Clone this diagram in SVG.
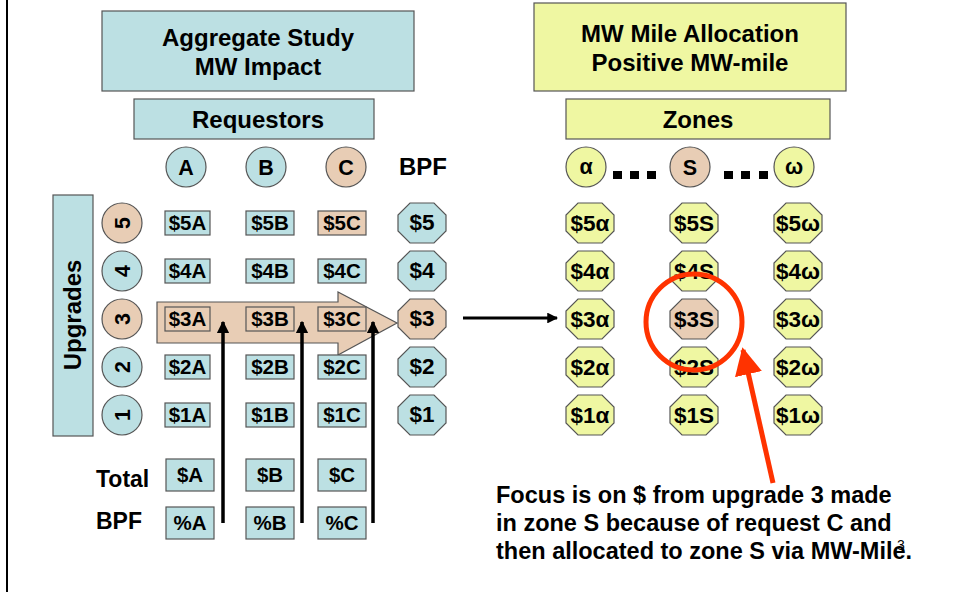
<svg xmlns="http://www.w3.org/2000/svg" width="953" height="592" viewBox="0 0 953 592">
<style>
text{font-family:"Liberation Sans",Arial,sans-serif;font-weight:bold;fill:#000}
.teal{fill:#bce0e3;stroke:#555;stroke-width:1.2}
.tan{fill:#e8cdb5;stroke:#555;stroke-width:1.2}
.yel{fill:#eff7a2;stroke:#555;stroke-width:1.2}
.t23{font-size:24px;text-anchor:middle}
.t21{font-size:21.5px;text-anchor:middle}
.t19{font-size:20.5px;text-anchor:middle}
.oc{font-size:22.5px;text-anchor:middle}
.note{font-size:23.5px}
</style>
<defs>
<path id="oct" d="M-12,-20 H12 L24,-8 V8 L12,20 H-12 L-24,8 V-8 Z"/>
<marker id="ah" viewBox="0 0 10 10" refX="9" refY="5" markerWidth="3.6" markerHeight="3.6" orient="auto" markerUnits="strokeWidth"><path d="M0,0 L10,5 L0,10 Z" fill="#000"/></marker>
<marker id="rah" viewBox="0 0 10 10" refX="9" refY="5" markerWidth="5.5" markerHeight="5.5" orient="auto" markerUnits="strokeWidth"><path d="M0,0 L10,5 L0,10 Z" fill="#ff3300"/></marker>
</defs>
<rect width="953" height="592" fill="#fff"/>
<line x1="7" y1="0" x2="7" y2="592" stroke="#000" stroke-width="2"/>

<g id="title-left"><rect class="teal" x="102" y="11" width="312" height="80"/><text class="t23" x="258" y="46">Aggregate Study</text><text class="t23" x="258" y="75">MW Impact</text></g>
<g id="requestors"><rect class="teal" x="134" y="99" width="240" height="40"/><text class="t23" x="258" y="128">Requestors</text></g>
<g id="title-right"><rect class="yel" x="534" y="3" width="312" height="88"/><text class="t23" x="690" y="42">MW Mile Allocation</text><text class="t23" x="690" y="71">Positive MW-mile</text></g>
<g id="zones"><rect class="yel" x="566" y="99" width="264" height="40"/><text class="t23" x="698" y="128">Zones</text></g>

<g id="req-A"><circle class="teal" cx="186" cy="167" r="20"/><text class="t21" x="186" y="175">A</text></g>
<g id="req-B"><circle class="teal" cx="266" cy="167" r="20"/><text class="t21" x="266" y="175">B</text></g>
<g id="req-C"><circle class="tan" cx="346" cy="167" r="20"/><text class="t21" x="346" y="175">C</text></g>
<g id="bpf-head"><text x="423" y="175" class="t23">BPF</text></g>

<g id="zone-alpha"><circle class="yel" cx="586" cy="167" r="20"/><text class="t21" x="586" y="174">α</text></g>
<g id="zone-S"><circle class="tan" cx="690" cy="167" r="20"/><text class="t21" x="690" y="175">S</text></g>
<g id="zone-omega"><circle class="yel" cx="794" cy="167" r="20"/><text class="t21" x="794" y="174">ω</text></g>
<g id="dots" fill="#000"><rect x="613" y="171" width="9" height="8"/><rect x="630" y="171" width="9" height="8"/><rect x="647" y="171" width="9" height="8"/><rect x="724" y="171" width="9" height="8"/><rect x="741" y="171" width="9" height="8"/><rect x="759" y="171" width="9" height="8"/></g>

<g id="upgrades"><rect class="teal" x="53" y="195" width="40" height="241"/><text class="t23" transform="translate(81,315) rotate(-90)" x="0" y="0">Upgrades</text></g>
<g id="up5"><circle class="tan" cx="122" cy="223" r="20"/><text class="t21" transform="translate(129.5,223) rotate(-90)">5</text></g>
<g id="up4"><circle class="teal" cx="122" cy="271" r="20"/><text class="t21" transform="translate(129.5,271) rotate(-90)">4</text></g>
<g id="up3"><circle class="tan" cx="122" cy="319" r="20"/><text class="t21" transform="translate(129.5,319) rotate(-90)">3</text></g>
<g id="up2"><circle class="teal" cx="122" cy="367" r="20"/><text class="t21" transform="translate(129.5,367) rotate(-90)">2</text></g>
<g id="up1"><circle class="teal" cx="122" cy="415" r="20"/><text class="t21" transform="translate(129.5,415) rotate(-90)">1</text></g>

<g id="big-arrow"><polygon class="tan" points="157,302 338,302 338,292 397,323 338,355 338,343 157,343"/></g>

<g id="c5A"><rect class="teal" x="165" y="211" width="45" height="24"/><text class="t19" x="187.5" y="230">$5A</text></g>
<g id="c5B"><rect class="teal" x="246" y="211" width="48" height="24"/><text class="t19" x="270" y="230">$5B</text></g>
<g id="c5C"><rect class="tan" x="318" y="211" width="48" height="24"/><text class="t19" x="342" y="230">$5C</text></g>
<g id="c4A"><rect class="teal" x="165" y="259" width="45" height="24"/><text class="t19" x="187.5" y="278">$4A</text></g>
<g id="c4B"><rect class="teal" x="246" y="259" width="48" height="24"/><text class="t19" x="270" y="278">$4B</text></g>
<g id="c4C"><rect class="teal" x="318" y="259" width="48" height="24"/><text class="t19" x="342" y="278">$4C</text></g>
<g id="c3A"><rect class="tan" x="165" y="307" width="45" height="24"/><text class="t19" x="187.5" y="326">$3A</text></g>
<g id="c3B"><rect class="tan" x="246" y="307" width="48" height="24"/><text class="t19" x="270" y="326">$3B</text></g>
<g id="c3C"><rect class="tan" x="318" y="307" width="48" height="24"/><text class="t19" x="342" y="326">$3C</text></g>
<g id="c2A"><rect class="teal" x="165" y="355" width="45" height="24"/><text class="t19" x="187.5" y="374">$2A</text></g>
<g id="c2B"><rect class="teal" x="246" y="355" width="48" height="24"/><text class="t19" x="270" y="374">$2B</text></g>
<g id="c2C"><rect class="teal" x="318" y="355" width="48" height="24"/><text class="t19" x="342" y="374">$2C</text></g>
<g id="c1A"><rect class="teal" x="165" y="403" width="45" height="24"/><text class="t19" x="187.5" y="422">$1A</text></g>
<g id="c1B"><rect class="teal" x="246" y="403" width="48" height="24"/><text class="t19" x="270" y="422">$1B</text></g>
<g id="c1C"><rect class="teal" x="318" y="403" width="48" height="24"/><text class="t19" x="342" y="422">$1C</text></g>

<g id="b5"><use href="#oct" class="teal" x="422" y="223"/><text class="oc" x="422" y="230">$5</text></g>
<g id="b4"><use href="#oct" class="teal" x="422" y="271"/><text class="oc" x="422" y="278">$4</text></g>
<g id="b3"><use href="#oct" class="tan" x="422" y="319"/><text class="oc" x="422" y="326">$3</text></g>
<g id="b2"><use href="#oct" class="teal" x="422" y="367"/><text class="oc" x="422" y="374">$2</text></g>
<g id="b1"><use href="#oct" class="teal" x="422" y="415"/><text class="oc" x="422" y="422">$1</text></g>

<g id="z5a"><use href="#oct" class="yel" x="590" y="223"/><text class="oc" x="590" y="231">$5α</text></g>
<g id="z4a"><use href="#oct" class="yel" x="590" y="271"/><text class="oc" x="590" y="279">$4α</text></g>
<g id="z3a"><use href="#oct" class="yel" x="590" y="319"/><text class="oc" x="590" y="327">$3α</text></g>
<g id="z2a"><use href="#oct" class="yel" x="590" y="367"/><text class="oc" x="590" y="375">$2α</text></g>
<g id="z1a"><use href="#oct" class="yel" x="590" y="415"/><text class="oc" x="590" y="423">$1α</text></g>
<g id="z5s"><use href="#oct" class="yel" x="694" y="223"/><text class="oc" x="694" y="231">$5S</text></g>
<g id="z4s"><use href="#oct" class="yel" x="694" y="271"/><text class="oc" x="694" y="279">$4S</text></g>
<g id="z3s"><use href="#oct" class="tan" x="694" y="319"/><text class="oc" x="694" y="327">$3S</text></g>
<g id="z2s"><use href="#oct" class="yel" x="694" y="367"/><text class="oc" x="694" y="375">$2S</text></g>
<g id="z1s"><use href="#oct" class="yel" x="694" y="415"/><text class="oc" x="694" y="423">$1S</text></g>
<g id="z5w"><use href="#oct" class="yel" x="798" y="223"/><text class="oc" x="798" y="231">$5ω</text></g>
<g id="z4w"><use href="#oct" class="yel" x="798" y="271"/><text class="oc" x="798" y="279">$4ω</text></g>
<g id="z3w"><use href="#oct" class="yel" x="798" y="319"/><text class="oc" x="798" y="327">$3ω</text></g>
<g id="z2w"><use href="#oct" class="yel" x="798" y="367"/><text class="oc" x="798" y="375">$2ω</text></g>
<g id="z1w"><use href="#oct" class="yel" x="798" y="415"/><text class="oc" x="798" y="423">$1ω</text></g>

<g id="totals">
<text x="96" y="487" font-size="23px">Total</text>
<text x="96" y="529" font-size="23px">BPF</text>
</g>
<g id="tA"><rect class="teal" x="166" y="459" width="48" height="32"/><text class="t19" x="190" y="482">$A</text></g>
<g id="tB"><rect class="teal" x="246" y="459" width="48" height="32"/><text class="t19" x="270" y="482">$B</text></g>
<g id="tC"><rect class="teal" x="318" y="459" width="48" height="32"/><text class="t19" x="342" y="482">$C</text></g>
<g id="pA"><rect class="teal" x="166" y="507" width="48" height="32"/><text class="t19" x="190" y="530">%A</text></g>
<g id="pB"><rect class="teal" x="246" y="507" width="48" height="32"/><text class="t19" x="270" y="530">%B</text></g>
<g id="pC"><rect class="teal" x="318" y="507" width="48" height="32"/><text class="t19" x="342" y="530">%C</text></g>

<g id="connectors">
<line x1="223" y1="523" x2="223" y2="322" stroke="#000" stroke-width="3.5" marker-end="url(#ah)"/>
<line x1="302" y1="523" x2="302" y2="322" stroke="#000" stroke-width="3.5" marker-end="url(#ah)"/>
<line x1="373" y1="523" x2="373" y2="322" stroke="#000" stroke-width="3.5" marker-end="url(#ah)"/>
<line x1="463" y1="318" x2="557" y2="318" stroke="#000" stroke-width="3" marker-end="url(#ah)"/>
<circle cx="694" cy="322" r="48" fill="none" stroke="#ff3300" stroke-width="5"/>
<line x1="773" y1="483" x2="743" y2="350" stroke="#ff3300" stroke-width="5" marker-end="url(#rah)"/>
</g>

<g id="note">
<text class="note" x="496" y="503">Focus is on $ from upgrade 3 made</text>
<text class="note" x="496" y="531">in zone S because of request C and</text>
<text class="note" x="496" y="559">then allocated to zone S via MW-Mile.</text>
<text x="897" y="550" font-size="14px" style="font-weight:normal">3</text>
</g>
</svg>
